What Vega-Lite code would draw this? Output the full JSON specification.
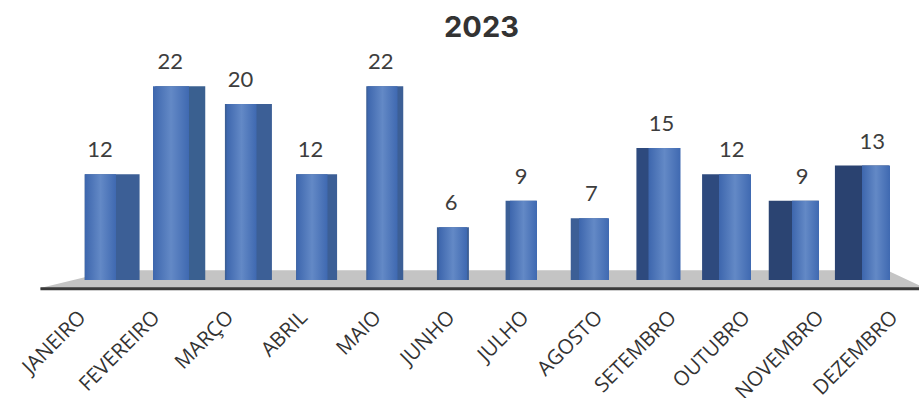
{
"$schema":"https://vega.github.io/schema/vega-lite/v6.json",
"width":919,"height":290,"padding":{"left":0,"top":0,"right":0,"bottom":108},"autosize":{"type":"none"},
"background":"white",
"config":{"view":{"stroke":null}},
"title":{"text":"2023","font":"Inter","fontWeight":700,"fontSize":29,"color":"#333333","anchor":"middle","frame":"group","offset":-43,"dx":22},
"datasets":{
"meses":[
{"mes":"JANEIRO","valor":12},{"mes":"FEVEREIRO","valor":22},{"mes":"MARÇO","valor":20},{"mes":"ABRIL","valor":12},{"mes":"MAIO","valor":22},{"mes":"JUNHO","valor":6},{"mes":"JULHO","valor":9},{"mes":"AGOSTO","valor":7},{"mes":"SETEMBRO","valor":15},{"mes":"OUTUBRO","valor":12},{"mes":"NOVEMBRO","valor":9},{"mes":"DEZEMBRO","valor":13}],
"piso":[{"posicao":-0.05,"frente":-1.0,"fundo":-0.9},{"posicao":0.6,"frente":-1.0,"fundo":0.3},{"posicao":1.0,"frente":-1.0,"fundo":1.1},{"posicao":12.0,"frente":-1.0,"fundo":1.1},{"posicao":12.37,"frente":-1.0,"fundo":1.1},{"posicao":12.84,"frente":-1.0,"fundo":-0.6}]
},
"resolve":{"scale":{"x":"independent","size":"independent"}},
"layer":[
{"data":{"name":"piso"},"mark":{"type":"area","color":"#c4c4c4"},
"encoding":{"x":{"field":"posicao","type":"quantitative","axis":null,"scale":{"domain":[-0.643,12.84],"range":[0,919],"nice":false,"zero":false}},
"y":{"field":"frente","type":"quantitative","axis":null,"scale":{"domain":[-1.14,31.8],"nice":false,"zero":false}},"y2":{"field":"fundo"}}},
{"data":{"name":"piso"},"mark":{"type":"line","color":"#3a3a3a","strokeWidth":3},
"encoding":{"x":{"field":"posicao","type":"quantitative","axis":null,"scale":{"domain":[-0.643,12.84],"range":[0,919],"nice":false,"zero":false}},
"y":{"field":"frente","type":"quantitative","axis":null}}},
{"data":{"name":"meses"},"mark":{"type":"rule","opacity":0},
"encoding":{"x":{"field":"mes","type":"nominal","sort":null,"scale":{"range":[46,931.6],"paddingInner":0,"paddingOuter":0},
"axis":{"title":null,"domain":false,"ticks":false,"labelAngle":-45,"labelAlign":"right","labelBaseline":"middle","labelFont":"Open Sans","labelFontSize":20.5,"labelColor":"#333333","labelPadding":24,"labelOverlap":false}}}},
{"data":{"name":"meses"},"mark":{"type":"bar"},
"encoding":{"x":{"field":"mes","type":"nominal","sort":null,"axis":null,"scale":{"range":[78,896],"paddingInner":0,"paddingOuter":0}},
"y":{"field":"valor","type":"quantitative","axis":null},
"color":{"field":"mes","type":"nominal","legend":null,"scale":{"domain":["JANEIRO","FEVEREIRO","MARÇO","ABRIL","MAIO","JUNHO","JULHO","AGOSTO","SETEMBRO","OUTUBRO","NOVEMBRO","DEZEMBRO"],"range":["#3c5f96","#3a6090","#3c5f96","#3c5f96","#3c5f96","#3c5f96","#3c5f96","#3c5f96","#2e4a7e","#2e4a7e","#2b4472","#2a4270"]}},
"size":{"field":"mes","type":"ordinal","legend":null,"scale":{"type":"ordinal","domain":["JANEIRO","FEVEREIRO","MARÇO","ABRIL","MAIO","JUNHO","JULHO","AGOSTO","SETEMBRO","OUTUBRO","NOVEMBRO","DEZEMBRO"],"range":[55,50,47,41,37,32,31,37,42,47,50,54]}}}},
{"data":{"name":"meses"},"mark":{"type":"bar","color":{"gradient":"linear","x1":0,"x2":1,"y1":0,"y2":0,"stops":[{"offset":0,"color":"#3d66ad"},{"offset":0.5,"color":"#6389c6"},{"offset":1,"color":"#3f69b1"}]}},
"encoding":{"x":{"field":"mes","type":"nominal","sort":null,"axis":null,"scale":{"range":[65.25,911.25],"paddingInner":0,"paddingOuter":0}},
"y":{"field":"valor","type":"quantitative","axis":null},
"size":{"field":"mes","type":"ordinal","legend":null,"scale":{"type":"ordinal","domain":["JANEIRO","FEVEREIRO","MARÇO","ABRIL","MAIO","JUNHO","JULHO","AGOSTO","SETEMBRO","OUTUBRO","NOVEMBRO","DEZEMBRO"],"range":[31,36,30,31,30,28,27,30,32,32,27,28]}}}},
{"data":{"name":"meses"},"mark":{"type":"text","font":"Lato","fontSize":22,"color":"#3d3d3d","dy":-24},
"encoding":{"x":{"field":"mes","type":"nominal","sort":null,"axis":null,"scale":{"range":[64.9,907.3],"paddingInner":0,"paddingOuter":0}},
"y":{"field":"valor","type":"quantitative","axis":null},
"text":{"field":"valor","type":"quantitative"}}}
]
}
